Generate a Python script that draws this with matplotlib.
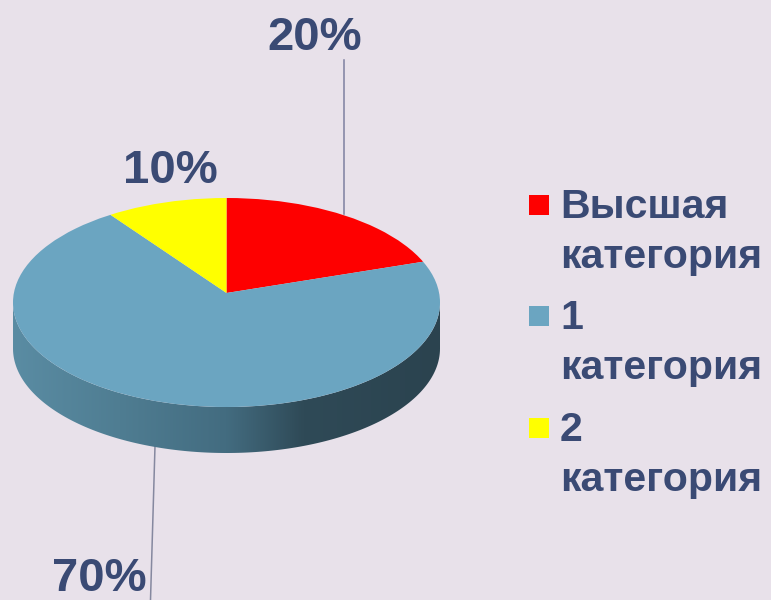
import numpy as np
import matplotlib
matplotlib.use("Agg")
import matplotlib.pyplot as plt
from matplotlib.colors import LinearSegmentedColormap
from matplotlib.patches import Ellipse, Polygon, Rectangle

categories = ["Высшая\nкатегория", "1\nкатегория", "2\nкатегория"]
values = [20, 70, 10]
colors = ["#fe0000", "#6ba5c1", "#ffff00"]
pct_labels = ["20%", "70%", "10%"]

BG = "#e8e1ea"
TXT = "#3a4a74"
W, H = 771, 600
LEFT, RIGHT, TOP, BOTTOM = 13, 440, 198, 407   # верх диска, пиксели
DEPTH = 46
TIP_Y = 293

plt.rcParams["font.family"] = ["Liberation Sans", "DejaVu Sans"]
fig = plt.figure(figsize=(W / 100, H / 100), dpi=100, facecolor=BG)

# подложка в пикселях: боковая стенка, выноски, подписи, легенда
ax = fig.add_axes([0, 0, 1, 1])
ax.set_xlim(0, W)
ax.set_ylim(H, 0)
ax.axis("off")

cx, cy = (LEFT + RIGHT) / 2, (TOP + BOTTOM) / 2
rx, ry = (RIGHT - LEFT) / 2, (BOTTOM - TOP) / 2
t = np.linspace(0, np.pi, 200)
lower = np.c_[cx + rx * np.cos(t), cy + DEPTH + ry * np.sin(t)]
upper = np.c_[cx + rx * np.cos(t[::-1]), cy + ry * np.sin(t[::-1])]
side = Polygon(np.r_[lower, upper], closed=True, fc="none", ec="none", transform=ax.transData)
ax.add_patch(side)
cmap = LinearSegmentedColormap.from_list("side", [
    (0.0, "#5a8ca3"), (0.25, "#4f7d92"), (0.5, "#436c80"), (0.68, "#2f4a57"), (1.0, "#2b434f")])
im = ax.imshow(np.linspace(0, 1, 256)[None, :], cmap=cmap, aspect="auto",
               extent=(LEFT, RIGHT, BOTTOM + DEPTH, cy), zorder=2)
im.set_clip_path(side)
ax.set_xlim(0, W)
ax.set_ylim(H, 0)

# выноски
ax.plot([343.5, 343.5], [60, 214], color="#7d80a0", lw=1.1, zorder=1)
ax.plot([155, 150.5], [446, 600], color="#85889f", lw=1.1, zorder=1)

ax.text(315, 38, pct_labels[0], color=TXT, fontsize=34, fontweight="bold", ha="center", va="center")
ax.text(99, 579, pct_labels[1], color=TXT, fontsize=34, fontweight="bold", ha="center", va="center")
ax.text(170, 171, pct_labels[2], color=TXT, fontsize=34, fontweight="bold", ha="center", va="center")

# легенда
leg_y = [204, 315, 427]
for col, lab, y in zip(colors, categories, leg_y):
    ax.add_patch(Rectangle((529, y - 9), 20, 20, fc=col, ec="none"))
    first, second = lab.split("\n")
    ax.text(560, y + 3, first, color=TXT, fontsize=29.5, fontweight="bold", va="center")
    ax.text(560, y + 53, second, color=TXT, fontsize=29.5, fontweight="bold", va="center")

# верх диска: нормированные координаты, клип по эллипсу
pie_ax = fig.add_axes([LEFT / W, 1 - BOTTOM / H, (RIGHT - LEFT) / W, (BOTTOM - TOP) / H])
tip = (cy - TIP_Y) / ry
wedges, _ = pie_ax.pie(values, colors=colors, startangle=90, counterclock=False,
                       center=(0, tip), radius=2.2)
pie_ax.set_aspect("auto")
pie_ax.set_xlim(-1, 1)
pie_ax.set_ylim(-1, 1)
pie_ax.patch.set_alpha(0)
disc = Ellipse((0, 0), 2, 2, fc="none", ec="none", transform=pie_ax.transData)
pie_ax.add_patch(disc)
for w in wedges:
    w.set_clip_on(True)
    w.set_clip_path(disc)

fig.savefig("out.png", dpi=100, facecolor=BG)
